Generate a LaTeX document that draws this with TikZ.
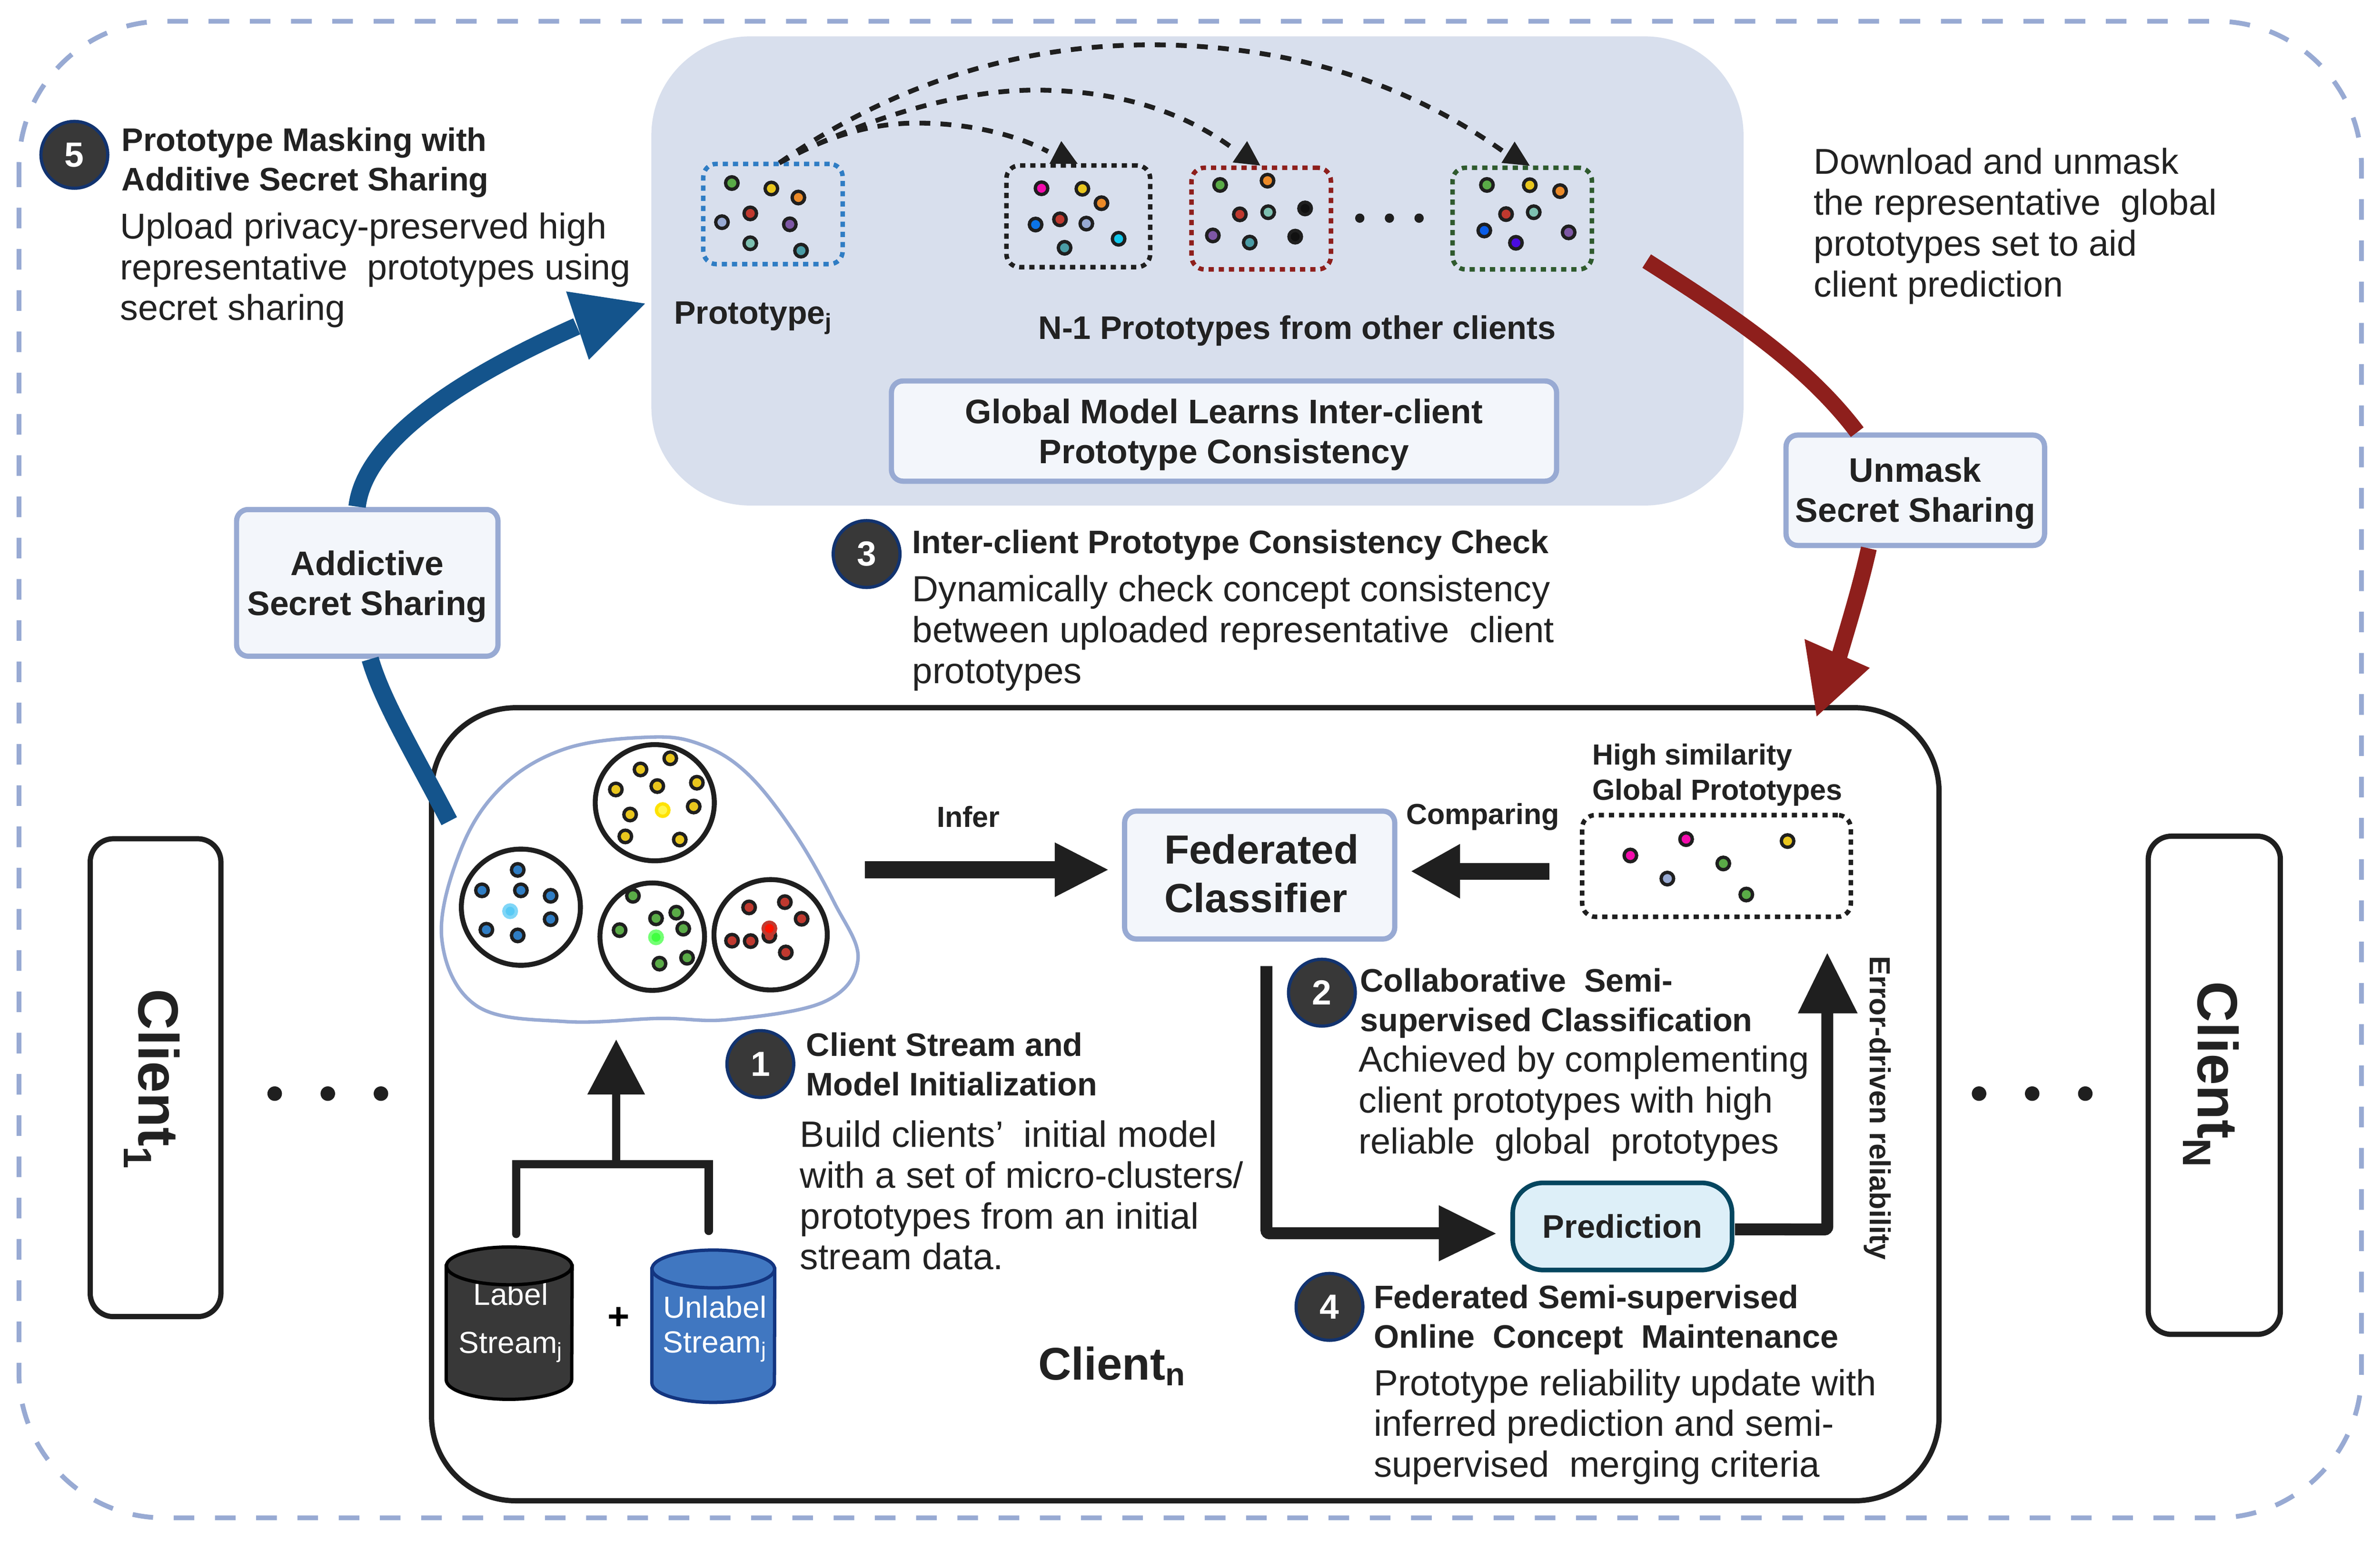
\documentclass[tikz,border=0pt]{standalone}
\usepackage{fontspec}
\setmainfont{Liberation Sans}
\usetikzlibrary{calc}
\definecolor{ink}{HTML}{1F1F1F}
\definecolor{txt}{HTML}{222222}
\definecolor{peri}{HTML}{98AAD3}
\definecolor{panel}{HTML}{D8DFED}
\definecolor{paleb}{HTML}{F3F6FB}
\definecolor{navy}{HTML}{14548C}
\definecolor{wine}{HTML}{8E1F1C}
\definecolor{cY}{HTML}{E9C61D}
\definecolor{cB}{HTML}{2F7DC4}
\definecolor{cG}{HTML}{5AAB47}
\definecolor{cR}{HTML}{C0392F}
\definecolor{cO}{HTML}{EC8A28}
\definecolor{cT}{HTML}{4A9CA5}
\definecolor{cM}{HTML}{7DC0B0}
\definecolor{cP}{HTML}{7E57A5}
\definecolor{cL}{HTML}{98AAD3}
\definecolor{cK}{HTML}{F40BAD}
\definecolor{cA}{HTML}{0B74E8}
\definecolor{cC}{HTML}{12C8EC}
\definecolor{cI}{HTML}{4A0BE0}
\definecolor{cD}{HTML}{0A5DE8}
\definecolor{cZ}{HTML}{111111}
\definecolor{forest}{HTML}{2F5A2E}
\definecolor{dkteal}{HTML}{05465F}
\definecolor{palec}{HTML}{DDEFF8}
\definecolor{cylb}{HTML}{4077C1}
\definecolor{cyln}{HTML}{133580}
\definecolor{cylk}{HTML}{383838}
\definecolor{bfill}{HTML}{383838}
\definecolor{bline}{HTML}{12336F}
\tikzset{
  body/.style={font=\fontsize{#1}{28.1}\selectfont,text=txt,align=left,anchor=west,inner sep=0pt},
  head/.style={font=\fontsize{22.4}{27.2}\selectfont\bfseries,text=txt,align=left,anchor=west,inner sep=0pt},
  lab/.style={font=\fontsize{20}{24}\selectfont\bfseries,text=txt,align=left,inner sep=0pt},
  softbox/.style={draw=peri,fill=paleb,line width=3.6pt,rounded corners=8pt,inner sep=0pt,outer sep=0pt},
  boxtext/.style={align=center,text=txt,inner sep=0pt,font=\fontsize{23.4}{27.5}\selectfont\bfseries},
  badge/.style={circle,fill=bfill,draw=bline,line width=2.2pt,minimum size=46pt,inner sep=0pt,text=white,
     font=\fontsize{24}{24}\selectfont\bfseries},
  clientbox/.style={draw=ink,fill=white,line width=3.6pt,rounded corners=16pt,inner sep=0pt},
  protobox/.style={line width=3.1pt,rounded corners=9pt,dash pattern=on 3.6pt off 3.4pt},
  arcdash/.style={draw=ink,line width=3.3pt,dash pattern=on 7.5pt off 7pt},
  heavy/.style={draw=ink,line width=8.2pt,rounded corners=2pt},
  pdot/.style={draw=ink,line width=2.3pt},
  cdisc/.style={draw=ink,line width=3.4pt,fill=white},
  zA/.style={shift={(408.4,13.6)},x=0.015944cm,y=-0.00574cm},
  zB/.style={shift={(272.3,462.8)},x=0.007653cm,y=-0.005102cm},
  zC/.style={shift={(1007.4,476.5)},x=0.00574cm,y=-0.003333cm},
}
\newcommand{\dotlist}[1]{\foreach \px/\py/\pc in {#1}{\filldraw[pdot,fill=\pc] (\px,\py) circle[radius=4.3pt];}}
\newcommand{\dsp}{~ }
\begin{document}
\begin{tikzpicture}[x=0.03673cm,y=-0.03673cm]
\useasboundingbox (0,0) rectangle (1568.2,1015);
\fill[white] (0,0) rectangle (1568.2,1015);
% outer frame
\draw[peri,line width=3.3pt,rounded corners=100pt,dash pattern=on 14.2pt off 14.2pt] (12.5,14) rectangle (1556,1000);
% central panel
\node[fill=panel,rounded corners=68pt,minimum width=752pt,minimum height=323pt,inner sep=0pt,outer sep=0pt] (server) at (789,178.5) {};
\node[softbox,minimum width=458pt,minimum height=69pt] (gm) at (806.5,284) {};
\node[boxtext] (gmt) at ([yshift=-2.5pt]gm.center) {Global Model Learns Inter-client\\Prototype Consistency};
% prototype boxes
\node[protobox,draw=cB,minimum width=96pt,minimum height=69pt,inner sep=0pt] (pa) at (509.3,141) {};
\node[protobox,draw=ink,minimum width=99pt,minimum height=70pt,inner sep=0pt] (pb) at (710.5,142.5) {};
\node[protobox,draw=wine,minimum width=96pt,minimum height=70pt,inner sep=0pt] (pc) at (831,144) {};
\node[protobox,draw=forest,minimum width=96pt,minimum height=70pt,inner sep=0pt] (pd) at (1003,144) {};
\begin{scope}[zA]
\dotlist{170/685/cG,230/708/cY,271/746/cO,198/813/cR,155/850/cL,258/859/cP,198/939/cM,275/970/cT,
640/707/cK,702/709/cY,731/770/cO,668/838/cR,631/860/cA,708/856/cL,757/920/cC,675/958/cT,
911/693/cG,983/675/cO,941/817/cR,984/808/cM,1040/792/cZ,900/906/cP,956/936/cT,1025/911/cZ,
1316/693/cG,1381/694/cY,1427/719/cO,1345/816/cR,1387/808/cM,1312/885/cD,1360/937/cI,1440/893/cP}
\foreach \px in {1123,1168,1213}{\fill[ink] (\px,833) circle[radius=3.2pt];}
\coordinate (as) at (242,600);
\draw[arcdash] (as) .. controls (300,510) and (370,432) .. (450,432) .. controls (530,432) and (600,480) .. (650,552);
\draw[arcdash] (as) .. controls (350,440) and (500,293) .. (630,293) .. controls (760,293) and (860,390) .. (935,548);
\draw[arcdash] (as) .. controls (450,200) and (650,102) .. (806,102) .. controls (1020,102) and (1200,270) .. (1345,560);
\fill[ink] (670,508) -- (652,604) -- (695,604) -- cycle;
\fill[ink] (952,508) -- (930,598) -- (972,611) -- cycle;
\fill[ink] (1358,510) -- (1338,600) -- (1381,612) -- cycle;
\end{scope}
\node[lab,anchor=west,font=\fontsize{22.3}{24}\selectfont\bfseries] (ptl) at (444,209.5) {Prototype\textsubscript{j}};
\node[lab,anchor=west,font=\fontsize{22.5}{24}\selectfont\bfseries] (ntl) at (684,218) {N-1 Prototypes from other clients};
% client n
\node[clientbox,outer sep=0pt,rounded corners=58pt,minimum width=1038pt,minimum height=546pt] (cn) at (781,727.5) {};
\node[clientbox,minimum width=90pt,minimum height=329pt] (c1) at (102.5,710) {};
\node[clientbox,minimum width=91pt,minimum height=343pt] (cN) at (1459,715) {};
\node[rotate=-90,font=\fontsize{39}{39}\selectfont\bfseries,text=txt,inner sep=0pt] (c1t) at (100,711) {Client\textsubscript{1}};
\node[rotate=-90,font=\fontsize{39}{39}\selectfont\bfseries,text=txt,inner sep=0pt] (cNt) at (1457,708) {Client\textsubscript{N}};
\foreach \px in {181,216,251,1304,1339,1374}{\fill[ink] (\px,720.5) circle[radius=5pt];}
\node[font=\fontsize{31.5}{31}\selectfont\bfseries,text=txt,anchor=west,inner sep=0pt] (cnt) at (684,900) {Client\textsubscript{n}};
% blob and clusters
\begin{scope}[zB]
\draw[peri,line width=2.4pt,fill=white] plot[smooth cycle,tension=0.62] coordinates {(740,165) (900,195) (1050,330) (1200,610) (1330,950) (1405,1220) (1300,1420) (1000,1505) (780,1500) (480,1515) (200,1440) (90,1120) (150,700) (280,400) (480,220)};
\draw[cdisc] (763,476) ellipse[x radius=41pt,y radius=40pt];
\draw[cdisc] (340,972) ellipse[x radius=41pt,y radius=40pt];
\draw[cdisc] (755,1112) ellipse[x radius=36pt,y radius=37pt];
\draw[cdisc] (1129,1103) ellipse[x radius=39pt,y radius=38pt];
\dotlist{812/265/cY,718/318/cY,896/381/cY,771/397/cY,640/413/cY,886/494/cY,685/532/cY,670/636/cY,842/651/cY,
330/795/cB,217/892/cB,340/892/cB,434/918/cB,434/1029/cB,231/1079/cB,330/1106/cB,
694/918/cG,831/998/cG,767/1025/cG,853/1074/cG,652/1081/cG,865/1212/cG,778/1240/cG,
1061/973/cR,1174/948/cR,1227/1027/cR,1125/1108/cR,1007/1131/cR,1066/1133/cR,1177/1187/cR}
\filldraw[draw=yellow!85!orange,fill=yellow!70!white,line width=2.3pt] (788,511) circle[radius=4.3pt];
\filldraw[draw=cyan!50!white,fill=cyan!65!white,line width=2.3pt] (306,991) circle[radius=4.3pt];
\filldraw[draw=green!55!white,fill=green!75!white,line width=2.3pt] (767,1115) circle[radius=4.3pt];
\filldraw[draw=cR,fill=red!85!orange,line width=2.3pt] (1125,1073) circle[radius=4.3pt];
\end{scope}
% side arrows
\node[softbox,minimum width=180pt,minimum height=101pt] (add) at (242,384) {};
\node[boxtext] (addt) at ([yshift=-2.5pt]add.center) {Addictive\\Secret Sharing};
\node[softbox,minimum width=178pt,minimum height=76pt] (um) at (1262,323) {};
\node[boxtext] (umt) at ([yshift=-2pt]um.center) {Unmask\\Secret Sharing};
\coordinate (bs) at (296,541);
\coordinate (bh) at (380,215);
\coordinate (rs) at (1085,172);
\coordinate (rh) at (1212,432);
\draw[navy,line width=12pt] (bs) .. controls (272,495) and (252,462) .. ([xshift=2pt,yshift=-2pt]add.south);
\draw[navy,line width=12pt] ([xshift=-7pt,yshift=2pt]add.north) .. controls (240,295) and (290,255) .. (bh);
\fill[navy] (425,200) -- (373,192) -- (388,237) -- cycle;
\draw[wine,line width=11pt] (rs) .. controls (1140,207) and (1190,240) .. ([xshift=-40pt,yshift=2pt]um.north);
\draw[wine,line width=11pt] ([xshift=-32pt,yshift=-2pt]um.south) .. controls (1226,385) and (1220,405) .. (rh);
\fill[wine] (1197,472) -- (1189,421) -- (1232,440) -- cycle;
\node[softbox,minimum width=186pt,minimum height=88pt] (fc) at (830,576.5) {};
\node[boxtext,align=left,font=\fontsize{28}{33.5}\selectfont\bfseries,anchor=west] (fct) at (767,575.5) {Federated\\Classifier};
\node[lab,anchor=center] (inf) at (638,538) {Infer};
\node[lab,anchor=center] (cmp) at (977,538) {Comparing};
\node[lab,anchor=west,font=\fontsize{20}{24}\selectfont\bfseries] (hs) at (1049,510.5) {High similarity\\Global Prototypes};
\node[protobox,draw=ink,minimum width=185pt,minimum height=70pt,inner sep=0pt] (gp) at (1131,570.5) {};
\begin{scope}[zC]
\dotlist{428/962/cK,663/843/cK,1091/857/cY,820/1020/cG,584/1130/cL,917/1246/cG}
\end{scope}
% horizontal arrows
\coordinate (i0) at (570,573);
\draw[ink,line width=11.5pt] (i0) -- (697,573);
\fill[ink] (730,573) -- (695,555) -- (695,591) -- cycle;
\coordinate (c0) at (1021,574);
\draw[ink,line width=11.5pt] (c0) -- (960,574);
\fill[ink] (930,574) -- (962,556) -- (962,592) -- cycle;
% prediction loop
\node[draw=dkteal,fill=palec,line width=3.2pt,rounded corners=21pt,minimum width=151pt,minimum height=60pt,inner sep=0pt,outer sep=0pt,font=\fontsize{22.5}{26}\selectfont\bfseries,text=txt] (pr) at (1069,808) {Prediction};
\coordinate (l0) at (834.5,636.5);
\draw[heavy] (l0) -- (834.5,812.5) -- (950,812.5);
\fill[ink] (985.6,812.7) -- (948,794) -- (948,831) -- cycle;
\draw[heavy] ([xshift=2pt,yshift=-2pt]pr.east) -- (1204,810) -- (1204,664);
\fill[ink] (1204,628) -- (1184.6,667.6) -- (1224,667.6) -- cycle;
\node[rotate=-90,lab,anchor=center,font=\fontsize{20}{24}\selectfont\bfseries] (edr) at (1237,730) {Error-driven reliability};
% streams
\coordinate (sa) at (340,813);
\coordinate (sb) at (467,811);
\draw[ink,line width=5.6pt,line cap=round,line join=miter] (sa) -- (340,767) -- (467,767) -- (sb);
\draw[ink,line width=5.6pt] (406,767) -- (406,718);
\fill[ink] (406,685) -- (387,721) -- (425,721) -- cycle;
\filldraw[draw=black,fill=cylk,line width=2.3pt] (294,834) -- (294,909) arc[start angle=180,end angle=360,x radius=43.2pt,y radius=13.5pt] -- (377,834) -- cycle;
\node[text=white,font=\fontsize{21}{24}\selectfont,inner sep=0pt] (ls) at (336.5,852.5) {Label};
\node[text=white,font=\fontsize{21}{24}\selectfont,inner sep=0pt] (ls2) at (336.5,887.5) {Stream\textsubscript{j}};
\filldraw[draw=black,fill=cylk,line width=2.3pt] (335.5,834) ellipse[x radius=43.2pt,y radius=13pt];
\filldraw[draw=cyln,fill=cylb,line width=2.3pt] (429.5,836) -- (429.5,911) arc[start angle=180,end angle=360,x radius=42.2pt,y radius=13.5pt] -- (510.5,836) -- cycle;
\filldraw[draw=cyln,fill=cylb,line width=2.3pt] (470,836) ellipse[x radius=42.2pt,y radius=13pt];
\node[text=white,font=\fontsize{21}{24}\selectfont,inner sep=0pt,align=center] (us) at (471,875.5) {Unlabel\\Stream\textsubscript{j}};
\node[text=black,font=\fontsize{26}{26}\selectfont\bfseries,inner sep=0pt] (pl) at (407.5,868.5) {+};
% badges and texts
\node[badge] (b5) at (49,102) {5};
\node[badge] (b3) at (571,365) {3};
\node[badge] (b1) at (501,701) {1};
\node[badge] (b2) at (871,654) {2};
\node[badge] (b4) at (876,861) {4};
\node[head] (t5h) at (80,107) {Prototype Masking with\\Additive Secret Sharing};
\node[body=24.7] (t5b) at (79,178) {Upload privacy-preserved high\\representative\dsp prototypes using\\secret sharing};
\node[head] (t3h) at (601,359) {Inter-client Prototype Consistency Check};
\node[body=25] (t3b) at (601,417) {Dynamically check concept consistency\\between uploaded representative\dsp client\\prototypes};
\node[head] (t1h) at (531,701) {Client Stream and\\Model Initialization};
\node[body=25.2] (t1b) at (527,787.5) {Build clients'\dsp initial model\\with a set of micro-clusters/\\prototypes from an initial\\stream data.};
\node[head] (t2h) at (896,661) {Collaborative\dsp Semi-\\supervised Classification};
\node[body=24.8] (t2b) at (895,727) {Achieved by complementing\\client prototypes with high\\reliable\dsp global\dsp prototypes};
\node[head] (t4h) at (905,869.5) {Federated Semi-supervised\\Online\dsp Concept\dsp Maintenance};
\node[body=25] (t4b) at (905,940) {Prototype reliability update with\\inferred prediction and semi-\\supervised\dsp merging criteria};
\node[body=24.7] (t6b) at (1195,149) {Download and unmask\\the representative\dsp global\\prototypes set to aid\\client prediction};
\end{tikzpicture}
\end{document}
